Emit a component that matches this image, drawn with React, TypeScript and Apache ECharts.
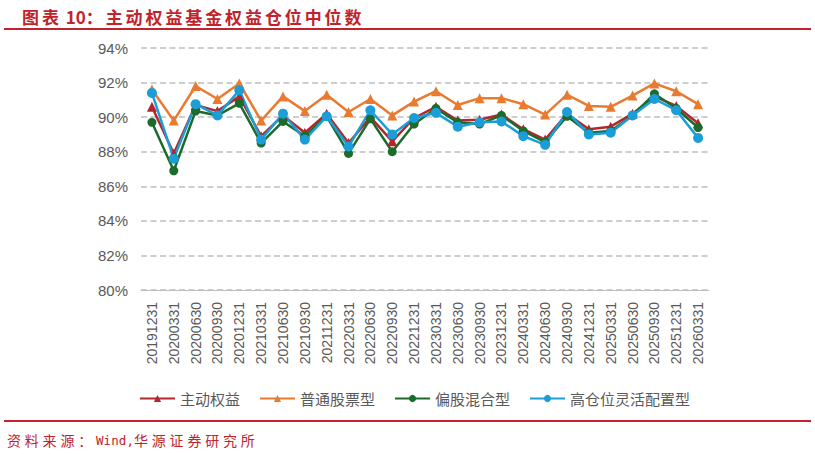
import React, { useEffect, useRef } from 'react';
import * as echarts from 'echarts';

const categories = [
  '20191231', '20200331', '20200630', '20200930', '20201231', '20210331', '20210630',
  '20210930', '20211231', '20220331', '20220630', '20220930', '20221231', '20230331',
  '20230630', '20230930', '20231231', '20240331', '20240630', '20240930', '20241231',
  '20250331', '20250630', '20250930', '20251231', '20260331',
];

// 主动权益
const activeEquity = [
  90.6, 87.9, 90.7, 90.35, 91.2, 88.9, 90.1, 89.1, 90.2, 88.5, 90.0, 88.6, 89.95,
  90.6, 89.8, 89.85, 90.15, 89.3, 88.7, 90.2, 89.3, 89.45, 90.2, 91.2, 90.65, 89.65,
];
// 普通股票型
const commonStock = [
  91.6, 89.8, 91.8, 91.05, 91.95, 89.8, 91.2, 90.35, 91.3, 90.3, 91.05, 90.1, 90.9,
  91.5, 90.7, 91.1, 91.1, 90.75, 90.15, 91.3, 90.65, 90.6, 91.25, 91.95, 91.5, 90.75,
];
// 偏股混合型
const equityHybrid = [
  89.7, 86.9, 90.35, 90.1, 90.8, 88.5, 89.75, 88.9, 90.05, 87.9, 89.9, 88.0, 89.6,
  90.5, 89.7, 89.6, 90.1, 89.2, 88.55, 90.05, 89.1, 89.2, 90.1, 91.35, 90.5, 89.4,
];
// 高仓位灵活配置型
const flexibleHigh = [
  91.4, 87.6, 90.75, 90.1, 91.55, 88.7, 90.2, 88.7, 90.05, 88.3, 90.4, 89.0, 89.95,
  90.25, 89.45, 89.7, 89.75, 88.9, 88.4, 90.3, 89.0, 89.1, 90.1, 91.05, 90.4, 88.8,
];

const seriesNames = ['主动权益', '普通股票型', '偏股混合型', '高仓位灵活配置型'];
const colors = ['#B3262D', '#E97A2F', '#1C6B2B', '#1B9ED8'];

const titleText = '图表 10：主动权益基金权益仓位中位数';
const sourceText = '资料来源：Wind,华源证券研究所';
const RED = '#C0232B';

// spread characters out one by one (the original has letter spacing)
const spaced = (
  text: string, x0: number, y: number, cjk: number, ascii: number,
  font: string, asciiFont: string,
) => {
  const out: any[] = [];
  let x = x0;
  for (const ch of text) {
    const wide = ch.charCodeAt(0) > 0x2e80;
    out.push({
      type: 'text',
      x,
      y,
      style: { text: ch, fill: RED, font: wide ? font : asciiFont, textVerticalAlign: 'middle' },
    });
    x += ch === ' ' ? 4 : wide ? cjk : ascii;
  }
  return out;
};

const App = () => {
  const chartRef = useRef<HTMLDivElement>(null);

  useEffect(() => {
    const chart = echarts.init(chartRef.current, null, { renderer: 'svg' });

    const mk = (name: string, data: number[], color: string, symbol: string, size: number) => ({
      name,
      type: 'line',
      data,
      symbol,
      symbolSize: size,
      showAllSymbol: true,
      lineStyle: { color, width: 2.5 },
      itemStyle: { color },
    });

    const option = {
      animation: false,
      color: colors,
      textStyle: { fontFamily: '"Noto Sans CJK SC", "Liberation Sans", sans-serif' },
      grid: { left: 141, right: 106, top: 48, bottom: 164 },
      legend: {
        top: 386,
        left: 134,
        itemWidth: 35,
        itemHeight: 9,
        itemGap: 19,
        textStyle: { color: '#595959', fontSize: 15 },
        data: seriesNames,
      },
      xAxis: {
        type: 'category',
        data: categories,
        axisLine: { lineStyle: { color: '#BFBFBF', width: 1 } },
        axisTick: { show: false },
        axisLabel: {
          rotate: 90,
          interval: 0,
          color: '#595959',
          fontSize: 14,
          fontFamily: '"Liberation Sans", Arial, sans-serif',
          margin: 12,
        },
      },
      yAxis: {
        type: 'value',
        min: 80,
        max: 94,
        interval: 2,
        axisLine: { show: false },
        axisTick: { show: false },
        axisLabel: {
          formatter: '{value}%',
          color: '#595959',
          fontSize: 15,
          fontFamily: '"Liberation Sans", Arial, sans-serif',
          margin: 13,
        },
        splitLine: { lineStyle: { color: '#BFBFBF', type: [6, 3.5], width: 1.5 } },
      },
      graphic: [
        ...spaced(titleText, 22, 16, 19.9, 10,
          'bold 17px "Noto Sans CJK SC", sans-serif',
          'bold 17px "Noto Sans CJK SC", sans-serif'),
        {
          type: 'line',
          shape: { x1: 4, y1: 29, x2: 811, y2: 29 },
          style: { stroke: RED, lineWidth: 2 },
        },
        {
          type: 'line',
          shape: { x1: 4, y1: 421, x2: 811, y2: 421 },
          style: { stroke: RED, lineWidth: 2 },
        },
        ...spaced(sourceText, 7, 440, 17.8, 7.6,
          '14px "Noto Sans CJK SC", sans-serif',
          '12.5px "DejaVu Sans Mono", monospace'),
      ],
      series: [
        mk(seriesNames[0], activeEquity, colors[0], 'triangle', 10),
        mk(seriesNames[1], commonStock, colors[1], 'triangle', 10),
        mk(seriesNames[2], equityHybrid, colors[2], 'circle', 9),
        mk(seriesNames[3], flexibleHigh, colors[3], 'circle', 10),
      ],
    };

    chart.setOption(option);

    const handleResize = () => chart.resize();
    window.addEventListener('resize', handleResize);
    return () => {
      window.removeEventListener('resize', handleResize);
      chart.dispose();
    };
  }, []);

  return (
    <div
      ref={chartRef}
      style={{ position: 'fixed', left: 0, top: 0, width: 815, height: 454, background: '#fff' }}
    />
  );
};

export default App;
